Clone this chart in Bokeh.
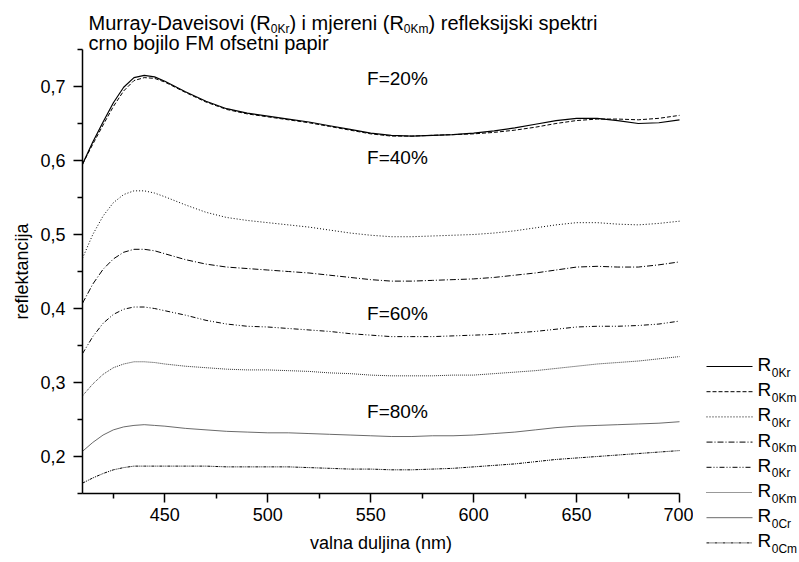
from bokeh.plotting import figure
from bokeh.models import Range1d, FixedTicker, CustomJSTickFormatter, Title
from bokeh.layouts import row
from bokeh.embed import file_html
from bokeh.resources import INLINE
from bokeh.core.properties import value

# ---------------- data ----------------
wavelength = [410, 415, 420, 425, 430, 435, 440, 445, 450, 460, 470, 480, 490, 500,
              510, 520, 530, 540, 550, 560, 570, 580, 590, 600, 610, 620, 630, 640,
              650, 660, 670, 680, 690, 700]

r20 = [0.595, 0.625, 0.652, 0.678, 0.699, 0.712, 0.715, 0.713, 0.707, 0.693, 0.680, 0.670, 0.664, 0.660,
       0.656, 0.652, 0.647, 0.642, 0.637, 0.634, 0.633, 0.634, 0.635, 0.637, 0.640, 0.644, 0.649, 0.654,
       0.657, 0.657, 0.654, 0.650, 0.651, 0.655]
m20 = [0.595, 0.622, 0.648, 0.673, 0.694, 0.708, 0.712, 0.711, 0.706, 0.692, 0.679, 0.669, 0.663, 0.659,
       0.655, 0.651, 0.646, 0.641, 0.636, 0.633, 0.633, 0.634, 0.635, 0.636, 0.638, 0.641, 0.645, 0.650,
       0.654, 0.656, 0.656, 0.655, 0.657, 0.661]
r40 = [0.468, 0.500, 0.525, 0.543, 0.554, 0.559, 0.559, 0.556, 0.551, 0.540, 0.530, 0.523, 0.519, 0.516,
       0.513, 0.510, 0.506, 0.502, 0.499, 0.497, 0.497, 0.498, 0.499, 0.500, 0.502, 0.505, 0.509, 0.513,
       0.516, 0.516, 0.514, 0.513, 0.515, 0.518]
m40 = [0.407, 0.433, 0.453, 0.467, 0.476, 0.480, 0.480, 0.478, 0.474, 0.466, 0.460, 0.456, 0.454, 0.452,
       0.450, 0.448, 0.445, 0.442, 0.439, 0.437, 0.437, 0.438, 0.439, 0.440, 0.442, 0.445, 0.448, 0.452,
       0.456, 0.457, 0.456, 0.456, 0.459, 0.463]
r60 = [0.339, 0.362, 0.380, 0.392, 0.399, 0.402, 0.402, 0.400, 0.397, 0.391, 0.384, 0.379, 0.376, 0.375,
       0.373, 0.371, 0.369, 0.366, 0.364, 0.362, 0.362, 0.362, 0.363, 0.364, 0.365, 0.367, 0.369, 0.372,
       0.375, 0.376, 0.376, 0.377, 0.379, 0.383]
m60 = [0.282, 0.298, 0.311, 0.320, 0.325, 0.328, 0.328, 0.327, 0.325, 0.322, 0.320, 0.318, 0.317, 0.317,
       0.316, 0.315, 0.313, 0.312, 0.310, 0.309, 0.309, 0.309, 0.310, 0.310, 0.312, 0.314, 0.316, 0.319,
       0.322, 0.325, 0.327, 0.329, 0.332, 0.335]
r80 = [0.207, 0.219, 0.229, 0.236, 0.240, 0.242, 0.243, 0.242, 0.241, 0.238, 0.236, 0.234, 0.233, 0.232,
       0.232, 0.231, 0.230, 0.229, 0.228, 0.227, 0.227, 0.228, 0.228, 0.229, 0.231, 0.233, 0.236, 0.239,
       0.241, 0.242, 0.243, 0.244, 0.245, 0.247]
m80 = [0.164, 0.171, 0.177, 0.182, 0.185, 0.187, 0.187, 0.187, 0.187, 0.187, 0.187, 0.186, 0.186, 0.186,
       0.186, 0.185, 0.184, 0.183, 0.183, 0.182, 0.182, 0.183, 0.184, 0.186, 0.188, 0.190, 0.193, 0.196,
       0.198, 0.200, 0.202, 0.204, 0.206, 0.208]

series = [r20, m20, r40, m40, r60, m60, r80, m80]
legend_subs = ["0Kr", "0Km", "0Kr", "0Km", "0Kr", "0Km", "0Cr", "0Cm"]

f_labels = ["F=20%", "F=40%", "F=60%", "F=80%"]
f_label_x = [563, 563, 563, 563]
f_label_y = [0.711, 0.604, 0.393, 0.261]

x_bounds = (410, 700)
y_bounds = (0.15, 0.75)
x_major = [450, 500, 550, 600, 650, 700]
x_minor = [425, 475, 525, 575, 625, 675]
y_major = [0.2, 0.3, 0.4, 0.5, 0.6, 0.7]
y_minor = [0.15, 0.25, 0.35, 0.45, 0.55, 0.65, 0.75]

x_title = "valna duljina (nm)"
y_title = "reflektancija"
title_1 = ["Murray-Daveisovi (R", "0Kr", ") i mjereni (R", "0Km", ") refleksijski spektri"]
title_2 = "crno bojilo FM ofsetni papir"

# ---------------- styles ----------------
FONT = "Liberation Sans"
styles = [
    dict(line_dash="solid", line_width=1.2, line_color="black"),
    dict(line_dash="4 2", line_width=1.0, line_color="black"),
    dict(line_dash="1 2", line_width=1.0, line_color="black"),
    dict(line_dash="6 2 1 2", line_width=1.0, line_color="black"),
    dict(line_dash="5 2 1 2 1 2", line_width=1.0, line_color="black"),
    dict(line_dash="1 1", line_width=1.0, line_color="#333333"),
    dict(line_dash="solid", line_width=0.8, line_color="#444444"),
    dict(line_dash="3 1 1 1 1 1", line_width=1.0, line_color="black"),
]

# Arial / Liberation Sans advance widths (per em)
W = {'M': .833, 'u': .556, 'r': .333, 'a': .556, 'y': .5, '-': .333, 'D': .722, 'v': .5,
     'e': .556, 'i': .222, 's': .5, 'o': .556, ' ': .278, '(': .333, 'R': .722, ')': .333,
     'm': .833, 'j': .222, 'n': .556, 'f': .278, 'l': .222, 'k': .5, 'p': .556, 't': .278,
     '0': .556, 'K': .667, 'C': .722, 'c': .5, 'd': .556}

def tw(s, size):
    return sum(W.get(c, .556) for c in s) * size

TICK_FS = 18
TEXT_FS = 19
TITLE_FS = 20
SUB_FS = 12

# ---------------- layout (page pixels) ----------------
PAGE_W, PAGE_H = 797, 561
MAIN_W = 693
LEG_W = PAGE_W - MAIN_W
AX_L, AX_R, AX_T, AX_B = 82, 679, 49, 493      # where the axes are drawn
SX = (AX_R - AX_L) / (x_bounds[1] - x_bounds[0])
SY = (AX_B - AX_T) / (y_bounds[1] - y_bounds[0])

# frame reaches the top/right canvas edges, so the title can live inside it
x_end = x_bounds[0] + (MAIN_W - AX_L) / SX
y_end = y_bounds[0] + AX_B / SY

def dx(px):
    return x_bounds[0] + (px - AX_L) / SX

def dy(py):
    return y_bounds[0] + (AX_B - py) / SY

p = figure(width=MAIN_W, height=PAGE_H,
           x_range=Range1d(x_bounds[0], x_end), y_range=Range1d(y_bounds[0], y_end),
           output_backend="svg", toolbar_location=None, tools="", title_location=None,
           min_border_left=AX_L, min_border_right=0, min_border_top=0,
           min_border_bottom=PAGE_H - AX_B)
p.frame_align = False
p.outline_line_color = None
p.grid.visible = False
p.background_fill_color = "white"

for ys, st in zip(series, styles):
    p.line(wavelength, ys, **st)

for ax in (p.xaxis[0], p.yaxis[0]):
    ax.axis_line_width = 1.5
    ax.axis_line_color = "black"
    ax.major_tick_line_width = 1.5
    ax.minor_tick_line_width = 1.5
    ax.major_tick_in = 0
    ax.major_tick_out = 9
    ax.minor_tick_in = 0
    ax.minor_tick_out = 5
    ax.major_label_text_font = FONT
    ax.major_label_text_font_size = f"{TICK_FS}px"
    ax.major_label_text_color = "black"

p.xaxis[0].bounds = x_bounds
p.yaxis[0].bounds = y_bounds
p.xaxis[0].ticker = FixedTicker(ticks=x_major, minor_ticks=x_minor)
p.yaxis[0].ticker = FixedTicker(ticks=y_major, minor_ticks=y_minor)
p.yaxis[0].formatter = CustomJSTickFormatter(code="return tick.toFixed(1).replace('.', ',');")
p.xaxis[0].major_label_standoff = 5
p.yaxis[0].major_label_standoff = 8

# axis titles as side-panel titles, centred on the drawn (bounded) axes
x_title_off = (AX_L + AX_R) / 2 - tw(x_title, TICK_FS) / 2 - AX_L
y_title_off = AX_B - ((AX_T + AX_B) / 2 + tw(y_title, TICK_FS) / 2)
p.add_layout(Title(text=x_title, align="left", offset=x_title_off,
                   text_font=FONT, text_font_size=f"{TICK_FS}px", text_font_style="normal",
                   text_color="black", standoff=14), "below")
p.add_layout(Title(text=y_title, align="left", offset=y_title_off,
                   text_font=FONT, text_font_size=f"{TICK_FS}px", text_font_style="normal",
                   text_color="black", standoff=12), "left")

def put_text(fig, x, y, s, size, align="left"):
    fig.text(x=[x], y=[y], text=[s], text_font=value(FONT), text_font_size=f"{size}px",
             text_baseline="middle", text_align=align, text_color="black")

for t, x, y in zip(f_labels, f_label_x, f_label_y):
    put_text(p, x, y, t, TEXT_FS, align="center")

# chart title, two lines, with subscripts
tx, ty1, ty2 = 88, 22, 42
cx = tx
for i, seg in enumerate(title_1):
    sub = (i % 2 == 1)
    fs = SUB_FS if sub else TITLE_FS
    put_text(p, dx(cx), dy(ty1 + 6 if sub else ty1), seg, fs)
    cx += tw(seg, fs)
put_text(p, dx(tx), dy(ty2), title_2, TITLE_FS)

# ---------------- legend panel (pixel coordinates) ----------------
lg = figure(width=LEG_W, height=PAGE_H, x_range=Range1d(0, LEG_W), y_range=Range1d(PAGE_H, 0),
            output_backend="svg", toolbar_location=None, tools="", title_location=None,
            min_border=0, x_axis_location=None, y_axis_location=None)
lg.frame_align = False
lg.outline_line_color = None
lg.grid.visible = False

leg_y0, leg_dy = 366, 25.2
leg_x0, leg_x1, leg_tx = 706 - MAIN_W, 752 - MAIN_W, 757 - MAIN_W
for i, (sub, st) in enumerate(zip(legend_subs, styles)):
    yy = leg_y0 + i * leg_dy
    lg.line([leg_x0, leg_x1], [yy, yy], **st)
    put_text(lg, leg_tx, yy - 2, "R", TEXT_FS)
    put_text(lg, leg_tx + tw("R", TEXT_FS) + 0.5, yy + 6, sub, SUB_FS)

open("out.html", "w").write(file_html(row(p, lg), INLINE))
